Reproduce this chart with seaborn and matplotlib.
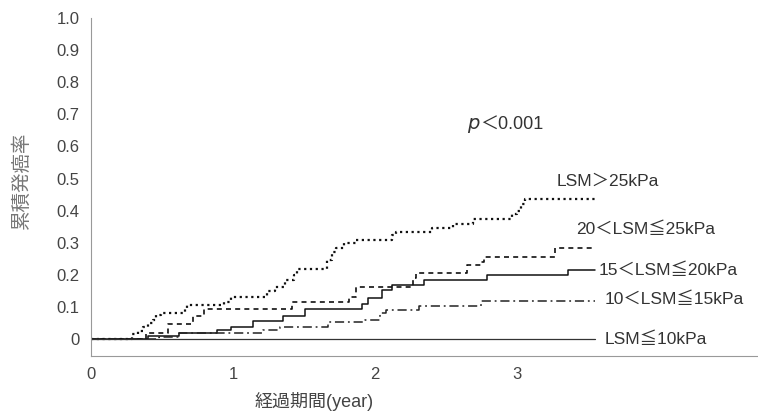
import pandas as pd
import seaborn as sns
import matplotlib
matplotlib.use("Agg")
import matplotlib.pyplot as plt

# Step curves (time in years, cumulative incidence)
t_gt25 = [0.29, 0.33, 0.37, 0.40, 0.44, 0.46, 0.49, 0.66, 0.68, 0.94, 0.99,
          1.24, 1.30, 1.37, 1.43, 1.45, 1.66, 1.70, 1.73, 1.78, 1.87,
          2.12, 2.15, 2.40, 2.55, 2.69, 2.97, 3.00, 3.03, 3.06]
y_gt25 = [0.015, 0.025, 0.037, 0.05, 0.06, 0.075, 0.082, 0.096, 0.105, 0.115, 0.13,
          0.15, 0.162, 0.184, 0.20, 0.218, 0.246, 0.27, 0.283, 0.30, 0.308,
          0.325, 0.333, 0.345, 0.36, 0.375, 0.39, 0.40, 0.42, 0.436]

t_20_25 = [0.39, 0.54, 0.72, 0.80, 1.42, 1.82, 1.87, 2.27, 2.29, 2.65, 2.75, 2.77, 3.27]
y_20_25 = [0.02, 0.047, 0.072, 0.093, 0.115, 0.13, 0.162, 0.19, 0.205, 0.23, 0.24, 0.256, 0.283]

t_15_20 = [0.40, 0.62, 0.89, 0.99, 1.14, 1.35, 1.51, 1.91, 1.95, 2.05, 2.12, 2.35, 2.79, 3.36]
y_15_20 = [0.01, 0.018, 0.028, 0.037, 0.055, 0.071, 0.095, 0.11, 0.128, 0.153, 0.168, 0.184, 0.20, 0.215]

t_10_15 = [0.48, 0.62, 1.21, 1.33, 1.67, 1.93, 2.04, 2.08, 2.31, 2.75]
y_10_15 = [0.007, 0.018, 0.028, 0.037, 0.052, 0.06, 0.08, 0.09, 0.103, 0.12]

t_le10 = []
y_le10 = []

end_time = 3.55

labels = ["LSM＞25kPa", "20＜LSM≦25kPa", "15＜LSM≦20kPa", "10＜LSM≦15kPa", "LSM≦10kPa"]
x_ticks = [0, 1, 2, 3]
y_ticks = [0, 0.1, 0.2, 0.3, 0.4, 0.5, 0.6, 0.7, 0.8, 0.9, 1.0]
y_tick_labels = ["0", "0.1", "0.2", "0.3", "0.4", "0.5", "0.6", "0.7", "0.8", "0.9", "1.0"]


def build(times, values):
    t = [0] + list(times) + [end_time]
    v = [0] + list(values) + [values[-1] if values else 0]
    return pd.DataFrame({"year": t, "rate": v})


sns.set_style("white")
plt.rcParams["font.family"] = ["Liberation Sans", "Noto Sans CJK JP"]
text_color = "#333333"

fig = plt.figure(figsize=(7.58, 4.19), dpi=100)
ax = fig.add_axes([0.12, 0.15, 0.88, 0.807])

styles = [
    dict(linestyle=(0, (1, 1.6)), linewidth=1.6, color="#111111"),
    dict(linestyle=(0, (3, 2.5)), linewidth=1.2, color="#111111"),
    dict(linestyle="-", linewidth=1.1, color="#111111"),
    dict(linestyle=(0, (6, 2.5, 1.2, 2.5)), linewidth=1.1, color="#222222"),
    dict(linestyle="-", linewidth=0.9, color="#333333"),
]
series = [(t_gt25, y_gt25), (t_20_25, y_20_25), (t_15_20, y_15_20),
          (t_10_15, y_10_15), (t_le10, y_le10)]

for (t, v), st in zip(series, styles):
    df = build(t, v)
    sns.lineplot(data=df, x="year", y="rate", ax=ax, drawstyle="steps-post",
                 estimator=None, sort=False, **st)

# Curve labels
label_pos = [(3.28, 0.49), (3.42, 0.343), (3.58, 0.215), (3.62, 0.125), (3.62, 0.0)]
for lab, (lx, ly) in zip(labels, label_pos):
    ax.text(lx, ly, lab, fontsize=12.5, color=text_color, va="center", ha="left")

ax.text(2.65, 0.665, "$p$", fontsize=14, color=text_color, va="center", ha="left")
ax.text(2.74, 0.665, "＜0.001", fontsize=13, color=text_color, va="center", ha="left")

ax.set_xlim(0, 4.7)
ax.set_ylim(-0.053, 1.0)
ax.set_xticks(x_ticks)
ax.set_xticklabels([str(x) for x in x_ticks])
ax.set_yticks(y_ticks)
ax.set_yticklabels(y_tick_labels)
ax.tick_params(axis="both", direction="in", length=3, width=0.6, colors="#888888",
               labelcolor="#444444", labelsize=12)
ax.tick_params(axis="y", pad=8)
ax.tick_params(axis="x", pad=8)

for side in ["top", "right"]:
    ax.spines[side].set_visible(False)
for side in ["left", "bottom"]:
    ax.spines[side].set_linestyle((0, (1, 1)))
    ax.spines[side].set_color("#999999")
    ax.spines[side].set_linewidth(0.8)

ax.set_xlabel("経過期間(year)", fontsize=13, color="#444444")
ax.xaxis.set_label_coords(0.335, -0.105)
ax.set_ylabel("累積発癌率", fontsize=14, color="#777777")
ax.yaxis.set_label_coords(-0.09, 0.52)

fig.savefig("out.png", dpi=100)
